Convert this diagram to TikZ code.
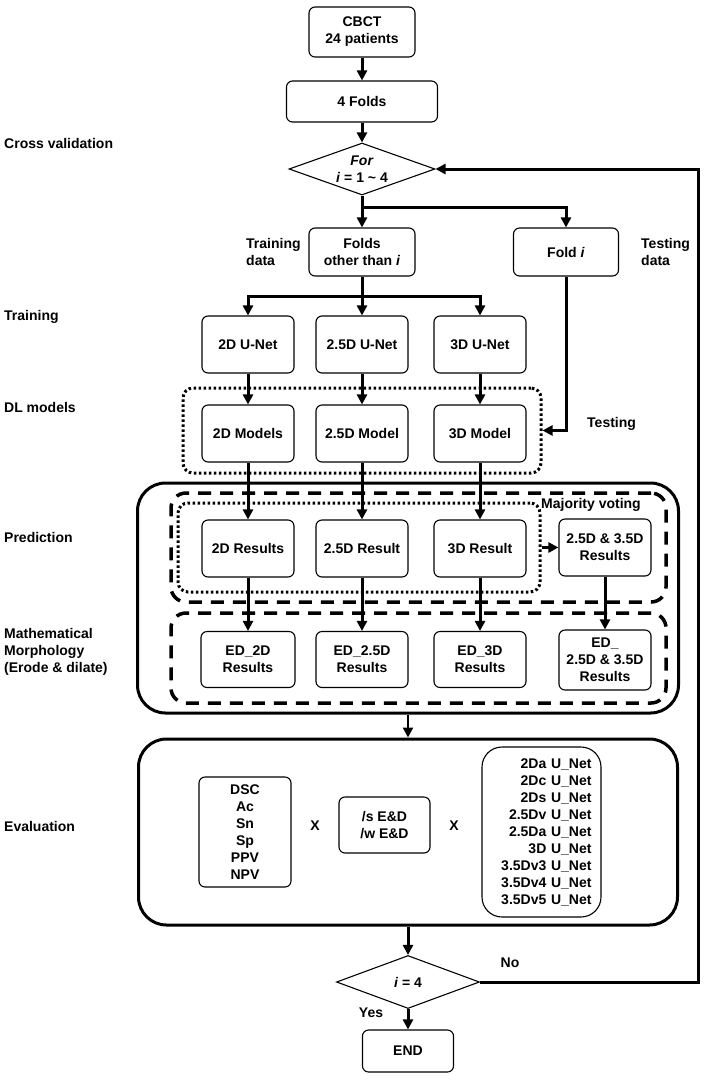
\documentclass[tikz,border=0pt]{standalone}
\usepackage{fontspec}
\setmainfont{Liberation Sans}
\usetikzlibrary{arrows.meta,shapes.geometric}
\begin{document}
\begin{tikzpicture}[x=1pt,y=-1pt, font=\fontsize{14}{17}\selectfont\bfseries,
 box/.style={draw, fill=white, line width=1.1pt, rounded corners=6pt, align=center, inner sep=0pt},
 dia/.style={draw, fill=white, diamond, line width=1.1pt, aspect=2.8, inner sep=0pt, align=center},
 arr/.style={line width=3pt, -{Triangle[length=10pt,width=10pt]}},
 lab/.style={anchor=west, align=left, inner sep=0pt},
 cont/.style={draw, line width=3pt, rounded corners=28pt, inner sep=0pt},
 dashbox/.style={draw, line width=3.5pt, dash pattern=on 13pt off 9pt, rounded corners=15pt, inner sep=0pt},
 dotbox/.style={draw, line width=3pt, dash pattern=on 2.5pt off 2.5pt, rounded corners=10pt, inner sep=0pt}]
\useasboundingbox (0,0) rectangle (708,1080);

% containers
\node[dotbox, minimum width=358, minimum height=85] (dot1) at (362,430.5) {};
\node[cont, minimum width=541, minimum height=230] (bigbox) at (408,598) {};
\node[dashbox, minimum width=495, minimum height=109] (dash1) at (418.5,547.5) {};
\node[dotbox, minimum width=362, minimum height=89] (dot2) at (359,547.5) {};
\node[dashbox, minimum width=495, minimum height=90] (dash2) at (418.5,658) {};
\node[cont, minimum width=539, minimum height=186] (evalbox) at (408,832) {};

% left labels
\node[lab] (lcv) at (4,143) {Cross validation};
\node[lab] (ltr) at (4,317) {Training};
\node[lab] (ldl) at (4,407) {DL models};
\node[lab] (lpr) at (4,537) {Prediction};
\node[lab] (lmm) at (4,652) {Mathematical\\Morphology\\(Erode \& dilate)};
\node[lab] (lev) at (4,826) {Evaluation};
\node[lab] (ltd) at (246,252) {Training\\data};
\node[lab] (lte) at (641,252) {Testing\\data};
\node[lab] (ltest) at (587,424) {Testing};
\node[inner sep=0pt] (lmv) at (591,505) {Majority voting};

% top flow
\node[box, minimum width=106, minimum height=50] (cbct) at (362,32) {CBCT\\24 patients};
\node[box, minimum width=151, minimum height=41] (folds4) at (362,101.5) {4 Folds};
\node[dia, minimum width=146, minimum height=52] (forD) at (362,169) {\textit{For}\\\textit{i} = 1 \textasciitilde{} 4};
\node[box, minimum width=106, minimum height=48] (foldsother) at (362,252) {Folds\\other than \textit{i}};
\node[box, minimum width=105, minimum height=48] (foldi) at (566,252) {Fold \textit{i}};

\node[box, minimum width=92, minimum height=57] (unet2) at (248,344.5) {2D U-Net};
\node[box, minimum width=92, minimum height=57] (unet25) at (362,344.5) {2.5D U-Net};
\node[box, minimum width=92, minimum height=57] (unet3) at (480,344.5) {3D U-Net};

\node[box, minimum width=92, minimum height=57] (mod2) at (248,433.5) {2D Models};
\node[box, minimum width=92, minimum height=57] (mod25) at (362,433.5) {2.5D Model};
\node[box, minimum width=92, minimum height=57] (mod3) at (480,433.5) {3D Model};

\node[box, minimum width=92, minimum height=57] (res2) at (248,548.5) {2D Results};
\node[box, minimum width=92, minimum height=57] (res25) at (362,548.5) {2.5D Result};
\node[box, minimum width=92, minimum height=57] (res3) at (480,548.5) {3D Result};
\node[box, minimum width=92, minimum height=57] (res35) at (605,547.5) {2.5D \& 3.5D\\Results};

\node[box, minimum width=94, minimum height=56] (ed2) at (248,659.5) {ED\_2D\\Results};
\node[box, minimum width=92, minimum height=56] (ed25) at (362,659.5) {ED\_2.5D\\Results};
\node[box, minimum width=92, minimum height=56] (ed3) at (480,659.5) {ED\_3D\\Results};
\node[box, minimum width=92, minimum height=60] (ed35) at (605,660) {ED\_\\2.5D \& 3.5D\\Results};

% evaluation content
\node[box, minimum width=92, minimum height=110] (metrics) at (245,832) {DSC\\Ac\\Sn\\Sp\\PPV\\NPV};
\node[inner sep=0pt] (x1) at (315,826) {X};
\node[box, minimum width=91, minimum height=56] (edsw) at (384.5,825) {/s E\&D\\/w E\&D};
\node[inner sep=0pt] (x2) at (454,826) {X};
\node[box, minimum width=119, minimum height=170, text width=100pt, align=right, rounded corners=20pt] (nets) at (541.5,832)
 {2Da U\_Net\\2Dc U\_Net\\2Ds U\_Net\\2.5Dv U\_Net\\2.5Da U\_Net\\3D U\_Net\\3.5Dv3 U\_Net\\3.5Dv4 U\_Net\\3.5Dv5 U\_Net};

% bottom
\node[dia, minimum width=143, minimum height=53] (i4) at (408,982) {\textit{i} = 4};
\node[box, minimum width=91, minimum height=42] (endn) at (408,1051) {END};
\node[inner sep=0pt] (lno) at (510,963) {No};
\node[inner sep=0pt] (lyes) at (371,1013) {Yes};

% connectors
\coordinate (s1) at (362,207);
\coordinate (s2) at (362,296);
\coordinate (fb) at (698,600);
\draw[arr] (cbct) -- (folds4);
\draw[arr] (folds4) -- (forD);
\draw[arr] (forD.south) -- (foldsother.north);
\draw[arr] (s1) -| (foldi.north);
\draw[arr] (foldsother.south) -- (unet25.north);
\draw[arr] (s2) -| (unet2.north);
\draw[arr] (s2) -| (unet3.north);
\draw[arr] (unet2) -- (mod2);
\draw[arr] (unet25) -- (mod25);
\draw[arr] (unet3) -- (mod3);
\draw[arr] (foldi.south) |- (dot1.east);
\draw[arr] (mod2) -- (res2);
\draw[arr] (mod25) -- (res25);
\draw[arr] (mod3) -- (res3);
\draw[arr] (dot2.east) -- (res35.west);
\draw[arr] (res2) -- (ed2);
\draw[arr] (res25) -- (ed25);
\draw[arr] (res3) -- (ed3);
\draw[arr] (res35) -- (ed35);
\draw[arr, line width=2.2pt] (bigbox.south) -- (evalbox.north);
\draw[arr] (evalbox.south) -- (i4.north);
\draw[arr] (i4.south) -- (endn.north);
\draw[arr] (i4.east) -| (fb) |- (forD.east);
\end{tikzpicture}
\end{document}
